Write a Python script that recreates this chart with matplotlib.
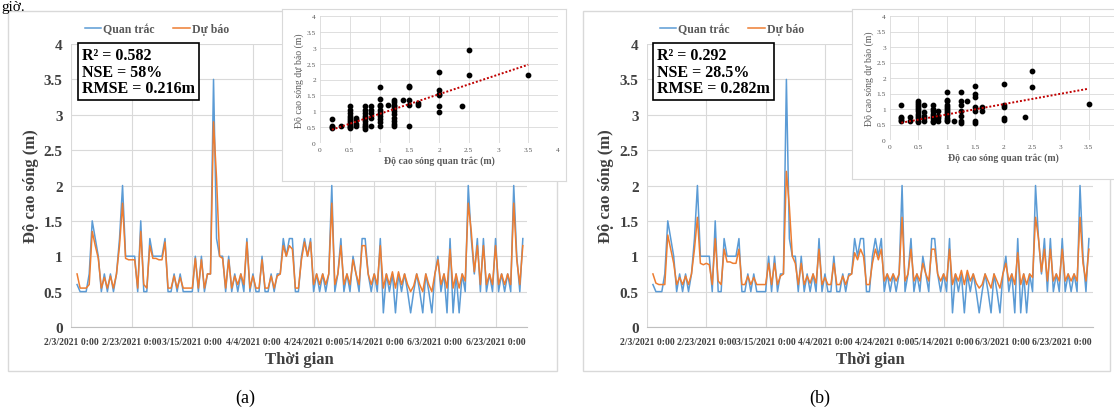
import numpy as np
import pandas as pd
import matplotlib
matplotlib.use('Agg')
import matplotlib.pyplot as plt
from matplotlib.patches import Rectangle
from matplotlib.ticker import FuncFormatter, MultipleLocator

plt.rcParams['font.family'] = ['Liberation Serif', 'DejaVu Serif']

# daily wave height series, first value on 5/2/2021
start_date = '2021-02-05'
obs = [0.6, 0.5, 0.5, 0.5, 0.75, 1.5, 1.25, 1.0, 0.5, 0.75,
       0.5, 0.75, 0.5, 0.75, 1.25, 2.0, 1.0, 1.0, 1.0, 1.0,
       0.5, 1.5, 0.5, 0.5, 1.25, 1.0, 1.0, 1.0, 1.0, 1.25,
       0.5, 0.5, 0.75, 0.5, 0.75, 0.5, 0.5, 0.5, 0.5, 1.0,
       0.5, 1.0, 0.5, 0.75, 0.75, 3.5, 1.25, 1.0, 1.0, 0.5,
       1.0, 0.5, 0.75, 0.5, 0.75, 0.5, 1.25, 0.5, 0.75, 0.5,
       0.5, 1.0, 0.5, 0.5, 0.75, 0.5, 0.75, 0.75, 1.25, 1.0,
       1.25, 1.25, 0.5, 0.5, 1.0, 1.25, 1.0, 1.25, 0.5, 0.75,
       0.5, 0.75, 0.5, 0.75, 2.0, 0.5, 0.75, 1.25, 0.5, 0.75,
       0.5, 1.0, 0.75, 0.5, 1.25, 1.25, 0.75, 0.5, 0.75, 0.5,
       1.25, 0.2, 0.75, 0.5, 0.75, 0.2, 0.75, 0.5, 0.75, 0.5,
       0.2, 0.5, 0.75, 0.5, 0.2, 0.75, 0.5, 0.2, 0.75, 1.0,
       0.5, 0.75, 0.2, 1.25, 0.2, 0.75, 0.2, 0.75, 0.5, 2.0,
       1.25, 0.75, 1.25, 0.5, 1.25, 0.5, 0.75, 0.5, 1.25, 0.5,
       0.75, 0.5, 0.75, 0.5, 2.0, 1.0, 0.5, 1.25]
pred_a = [0.75, 0.55, 0.55, 0.55, 0.6, 1.35, 1.15, 0.97, 0.55, 0.7,
          0.55, 0.72, 0.55, 0.75, 1.15, 1.75, 0.97, 0.95, 0.95, 0.95,
          0.55, 1.35, 0.6, 0.55, 1.15, 0.97, 0.97, 0.95, 0.95, 1.2,
          0.55, 0.55, 0.72, 0.55, 0.7, 0.55, 0.55, 0.55, 0.55, 0.97,
          0.55, 0.95, 0.55, 0.75, 0.75, 2.9, 2.1, 1.0, 0.97, 0.55,
          0.95, 0.55, 0.72, 0.6, 0.75, 0.6, 1.2, 0.55, 0.72, 0.55,
          0.55, 0.95, 0.55, 0.55, 0.72, 0.55, 0.72, 0.75, 1.15, 1.0,
          1.15, 1.1, 0.55, 0.55, 0.95, 1.2, 1.0, 1.2, 0.6, 0.75,
          0.6, 0.75, 0.6, 0.75, 1.75, 0.6, 0.75, 1.15, 0.6, 0.75,
          0.6, 0.95, 0.75, 0.6, 1.15, 1.15, 0.75, 0.6, 0.75, 0.6,
          1.15, 0.55, 0.75, 0.6, 0.78, 0.55, 0.78, 0.6, 0.75, 0.6,
          0.5, 0.58, 0.75, 0.6, 0.5, 0.75, 0.6, 0.5, 0.75, 0.95,
          0.6, 0.75, 0.55, 1.1, 0.55, 0.75, 0.55, 0.75, 0.65, 1.75,
          1.35, 0.78, 1.15, 0.6, 1.15, 0.6, 0.75, 0.6, 1.15, 0.6,
          0.75, 0.6, 0.75, 0.6, 1.75, 0.95, 0.6, 1.15]
pred_b = [0.75, 0.62, 0.6, 0.6, 0.6, 1.3, 1.1, 0.9, 0.6, 0.7,
          0.6, 0.72, 0.6, 0.75, 1.1, 1.55, 0.9, 0.88, 0.9, 0.88,
          0.6, 1.25, 0.65, 0.6, 1.1, 0.92, 0.92, 0.9, 0.9, 1.1,
          0.6, 0.6, 0.72, 0.6, 0.7, 0.6, 0.6, 0.6, 0.6, 0.9,
          0.6, 0.9, 0.6, 0.72, 0.75, 2.2, 1.7, 1.0, 0.9, 0.6,
          0.9, 0.6, 0.72, 0.62, 0.75, 0.62, 1.1, 0.6, 0.7, 0.6,
          0.6, 0.9, 0.6, 0.6, 0.72, 0.6, 0.72, 0.75, 1.05, 0.95,
          1.1, 1.0, 0.6, 0.6, 0.9, 1.1, 0.95, 1.1, 0.65, 0.75,
          0.65, 0.75, 0.65, 0.75, 1.55, 0.65, 0.75, 1.1, 0.65, 0.75,
          0.65, 0.9, 0.75, 0.65, 1.1, 1.1, 0.75, 0.65, 0.75, 0.65,
          1.1, 0.6, 0.75, 0.65, 0.8, 0.6, 0.8, 0.65, 0.75, 0.62,
          0.55, 0.6, 0.75, 0.65, 0.55, 0.75, 0.65, 0.55, 0.75, 0.9,
          0.65, 0.75, 0.6, 1.05, 0.6, 0.75, 0.6, 0.75, 0.7, 1.55,
          1.25, 0.78, 1.1, 0.65, 1.1, 0.65, 0.75, 0.65, 1.1, 0.65,
          0.75, 0.65, 0.75, 0.65, 1.55, 0.9, 0.65, 1.1]

tick_dates = ['2021-02-03', '2021-02-23', '2021-03-15', '2021-04-04',
              '2021-04-24', '2021-05-14', '2021-06-03', '2021-06-23']
tick_labels = ['2/3/2021 0:00', '2/23/2021 0:00', '3/15/2021 0:00', '4/4/2021 0:00',
               '4/24/2021 0:00', '5/14/2021 0:00', '6/3/2021 0:00', '6/23/2021 0:00']
x_end = '2021-07-03 09:00'

# scatter: observed level -> forecast values
sc_a = [(0.2, [0.75, 0.55, 0.5, 0.47]), (0.35, [0.55]),
        (0.5, [0.47, 0.5, 0.55, 0.6, 0.65, 0.72, 0.78, 0.85, 0.95, 1.05, 1.17]),
        (0.6, [0.55, 0.6, 0.72, 0.78]),
        (0.75, [0.45, 0.5, 0.55, 0.6, 0.7, 0.78, 0.85, 0.95, 1.05, 1.17]),
        (0.85, [0.55, 0.78, 0.95, 1.05, 1.17]),
        (1.0, [0.55, 0.65, 0.75, 0.85, 0.95, 1.05, 1.15, 1.2, 1.4, 1.75]),
        (1.15, [1.2]),
        (1.25, [0.55, 0.6, 0.7, 0.8, 0.9, 1.0, 1.1, 1.15, 1.2, 1.3, 1.35]),
        (1.4, [1.35]), (1.5, [0.52, 1.2, 1.35, 1.75, 1.8]), (1.65, [1.2, 1.25]),
        (2.0, [0.97, 1.17, 1.5, 1.55, 1.67, 2.25]), (2.38, [1.17]),
        (2.5, [2.13, 2.93]), (3.5, [2.15])]
sc_b = [(0.2, [1.12, 0.75, 0.7, 0.65, 0.6]), (0.35, [0.75, 0.62]),
        (0.5, [0.58, 0.62, 0.7, 0.78, 0.85, 0.92, 1.0, 1.05, 1.12, 1.2, 1.25]),
        (0.6, [0.6, 0.7, 0.78, 0.9, 1.12]),
        (0.75, [0.57, 0.62, 0.7, 0.78, 0.85, 0.92, 1.0, 1.12]),
        (0.85, [0.6, 0.7, 0.78, 0.92]),
        (1.0, [0.6, 0.65, 0.72, 0.8, 0.88, 0.95, 1.0, 1.05, 1.12, 1.25, 1.3, 1.55]),
        (1.12, [0.6]),
        (1.25, [0.55, 0.62, 0.78, 0.92, 1.12, 1.25, 1.55]),
        (1.35, [1.25]), (1.5, [0.55, 0.62, 0.95, 1.05, 1.4, 1.5, 1.75]),
        (1.62, [0.92, 1.08]), (2.0, [0.65, 0.7, 1.08, 1.12, 1.8]), (2.38, [0.75]),
        (2.5, [1.7, 2.22]), (3.5, [1.17])]
trend_a = (0.62, 0.296)   # slope, intercept
trend_b = (0.333, 0.49)
stats_a = 'R² = 0.582\nNSE = 58%\nRMSE = 0.216m'
stats_b = 'R² = 0.292\nNSE = 28.5%\nRMSE = 0.282m'

BLUE = '#5B9BD5'
ORANGE = '#ED7D31'
GRID = '#D9D9D9'
W, H = 1114, 410

fig = plt.figure(figsize=(W / 100, H / 100), dpi=100)


def px_axes(box, **kw):
    x0, y0, x1, y1 = box
    return fig.add_axes([x0 / W, 1 - y1 / H, (x1 - x0) / W, (y1 - y0) / H], **kw)


def fmt_num(v, pos):
    return f'{v:g}'


def draw_panel(pred, sc, trend, stats, caption, dx, frame, main, ibox, iax, inset_xmax_label):
    fig.add_artist(Rectangle((frame[0] / W, 1 - frame[3] / H), (frame[2] - frame[0]) / W,
                             (frame[3] - frame[1]) / H, transform=fig.transFigure,
                             fill=False, ec=GRID, lw=1, zorder=0))
    ax = px_axes(main, zorder=1)
    t = pd.date_range(start_date, periods=len(obs), freq='D')
    ax.plot(t, obs, color=BLUE, lw=1.1, label='Quan trắc')
    ax.plot(t, pred, color=ORANGE, lw=1.1, label='Dự báo')
    ax.set_ylim(0, 4)
    ax.yaxis.set_major_locator(MultipleLocator(0.5))
    ax.yaxis.set_major_formatter(FuncFormatter(fmt_num))
    ax.set_xlim(pd.Timestamp(tick_dates[0]), pd.Timestamp(x_end))
    ax.set_xticks(pd.to_datetime(tick_dates))
    ax.set_xticklabels(tick_labels)
    ax.grid(True, color=GRID, lw=0.8)
    ax.set_axisbelow(True)
    for s in ['top', 'right', 'left']:
        ax.spines[s].set_visible(False)
    ax.spines['bottom'].set_color('#BFBFBF')
    ax.tick_params(axis='x', length=0, pad=7, labelsize=7, labelcolor='#404040')
    ax.tick_params(axis='y', length=0, pad=6, labelsize=11, labelcolor='#404040')
    for lb in ax.get_xticklabels() + ax.get_yticklabels():
        lb.set_fontweight('bold')
    ax.set_ylabel('Độ cao sóng (m)', fontsize=12, fontweight='bold', color='#404040')
    ax.yaxis.set_label_coords((39 + dx - main[0]) / (main[2] - main[0]), 0.5)
    ax.set_xlabel('Thời gian', fontsize=12, fontweight='bold', color='#404040', labelpad=4)
    ax.legend(loc='center left', bbox_to_anchor=((80 + dx) / W, 1 - 30 / H),
              bbox_transform=fig.transFigure, ncol=2, frameon=False, handlelength=1.4,
              handletextpad=0.15, columnspacing=1.6, borderaxespad=0,
              prop={'weight': 'bold', 'size': 8.5}, labelcolor='#595959')
    fig.text((82 + dx) / W, 1 - 48 / H, stats, ha='left', va='top', fontsize=11.5,
             fontweight='bold', linespacing=1.05, zorder=2,
             bbox=dict(boxstyle='square,pad=0.25', fc='white', ec='black', lw=1.2))

    # inset scatter
    bx = px_axes(ibox, zorder=3)
    bx.set_xticks([])
    bx.set_yticks([])
    for s in bx.spines.values():
        s.set_color(GRID)
    ix = px_axes(iax, zorder=4)
    ix.patch.set_alpha(0)
    xs = [x for x, ys in sc for _ in ys]
    ys = [y for _, yy in sc for y in yy]
    ix.scatter(xs, ys, s=10, color='black', zorder=3)
    tx = np.array([min(xs), max(xs)])
    ix.plot(tx, trend[0] * tx + trend[1], color='#C00000', ls=(0, (1, 1)), lw=1.4, zorder=4)
    ix.set_xlim(0, 4)
    ix.set_ylim(0, 4)
    ix.xaxis.set_major_locator(MultipleLocator(0.5))
    ix.yaxis.set_major_locator(MultipleLocator(0.5))
    ix.xaxis.set_major_formatter(
        FuncFormatter(lambda v, p: f'{v:g}' if v <= inset_xmax_label else ''))
    ix.yaxis.set_major_formatter(FuncFormatter(fmt_num))
    ix.grid(True, color=GRID, lw=0.6)
    ix.set_axisbelow(True)
    for s in ix.spines.values():
        s.set_visible(False)
    ix.tick_params(length=0, labelsize=5.3, labelcolor='#595959', pad=3)
    ix.set_xlabel('Độ cao sóng quan trắc (m)', fontsize=7, fontweight='bold',
                  color='#595959', labelpad=2)
    ix.set_ylabel('Độ cao sóng dự báo (m)', fontsize=7, color='#595959', labelpad=2)

    fig.text((245 + dx) / W, 1 - 398 / H, caption, ha='center', va='center', fontsize=13)


fig.text(1 / W, 1 - 1 / H, 'giờ.', ha='left', va='top', fontsize=11)

draw_panel(pred_a, sc_a, trend_a, stats_a, '(a)', 0,
           (8, 12, 557, 372), (71, 45, 527, 328), (282, 10, 566, 182), (320, 17, 558, 144), 4)
draw_panel(pred_b, sc_b, trend_b, stats_b, '(b)', 575,
           (583, 12, 1110, 372), (647, 45, 1093, 328), (852, 10, 1118, 180), (890, 17, 1117, 141), 3.5)

fig.savefig('out.png', dpi=100)
